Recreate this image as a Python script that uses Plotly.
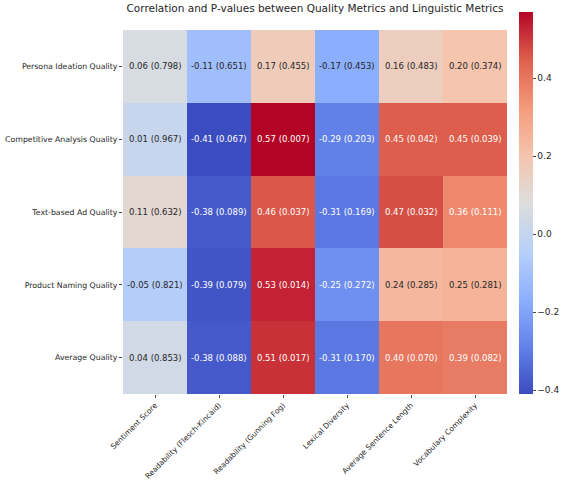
import plotly.graph_objects as go

cols = ["Sentiment Score", "Readability (Flesch-Kincaid)", "Readability (Gunning Fog)",
        "Lexical Diversity", "Average Sentence Length", "Vocabulary Complexity"]
rows = ["Persona Ideation Quality", "Competitive Analysis Quality", "Text-based Ad Quality",
        "Product Naming Quality", "Average Quality"]
corr = [
    [0.06, -0.11, 0.17, -0.17, 0.16, 0.20],
    [0.01, -0.41, 0.57, -0.29, 0.45, 0.45],
    [0.11, -0.38, 0.46, -0.31, 0.47, 0.36],
    [-0.05, -0.39, 0.53, -0.25, 0.24, 0.25],
    [0.04, -0.38, 0.51, -0.31, 0.40, 0.39],
]
pvals = [
    [0.798, 0.651, 0.455, 0.453, 0.483, 0.374],
    [0.967, 0.067, 0.007, 0.203, 0.042, 0.039],
    [0.632, 0.089, 0.037, 0.169, 0.032, 0.111],
    [0.821, 0.079, 0.014, 0.272, 0.285, 0.281],
    [0.853, 0.088, 0.017, 0.170, 0.070, 0.082],
]

coolwarm = [[0, "rgb(59,76,192)"], [0.125, "rgb(98,130,234)"], [0.25, "rgb(141,176,254)"],
            [0.375, "rgb(184,208,249)"], [0.5, "rgb(221,221,221)"], [0.625, "rgb(245,196,173)"],
            [0.75, "rgb(244,154,123)"], [0.875, "rgb(222,96,77)"], [1, "rgb(180,4,38)"]]

zmin, zmax = -0.41, 0.57
fig = go.Figure(go.Heatmap(z=corr, x=cols, y=rows, colorscale=coolwarm, zmin=zmin, zmax=zmax,
                           showscale=True,
                           colorbar=dict(x=1.03, xanchor="left", xpad=0, ypad=0, len=1.05,
                                         y=0, yanchor="bottom", thickness=14,
                                         tickvals=[-0.4, -0.2, 0, 0.2, 0.4],
                                         ticktext=["−0.4", "−0.2", "0.0", "0.2", "0.4"],
                                         outlinewidth=0, ticks="outside", ticklen=3,
                                         tickfont=dict(size=9))))
for i, r in enumerate(rows):
    for j, c in enumerate(cols):
        v = corr[i][j]
        color = "white" if (v < -0.2 or v > 0.3) else "#262626"
        fig.add_annotation(x=c, y=r, text=f"{v:.2f} ({pvals[i][j]:.3f})", showarrow=False,
                           font=dict(size=8.5, color=color))
fig.update_layout(
    width=565, height=486, plot_bgcolor="white", paper_bgcolor="white",
    font=dict(family="DejaVu Sans", color="#262626", size=8),
    title=dict(text="Correlation and P-values between Quality Metrics and Linguistic Metrics",
               x=0.5, xref="paper", xanchor="center", y=0.99, yanchor="top", font=dict(size=10.5)),
    margin=dict(l=123, r=58, t=30, b=92, autoexpand=False),
    xaxis=dict(tickangle=-45, ticks="outside", ticklen=3, automargin=False, tickfont=dict(size=7.5)),
    yaxis=dict(autorange="reversed", ticks="outside", ticklen=3, automargin=False, tickfont=dict(size=7.8)),
)
fig.write_html("out.html", config={"displayModeBar": False},
               post_script="document.body.style.margin='0';document.body.style.overflow='hidden';")
